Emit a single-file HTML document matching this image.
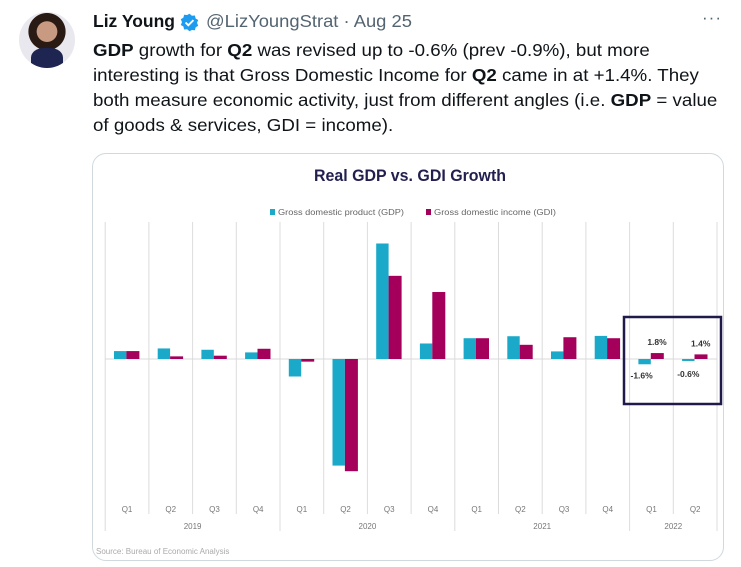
<!DOCTYPE html>
<html><head><meta charset="utf-8">
<style>
body{margin:0;width:741px;height:567px;background:#fff;font-family:"Liberation Sans",Arial,sans-serif;position:relative;overflow:hidden}
.abs{position:absolute}
.line{position:absolute;left:93px;font-size:17.5px;color:#0f1419;white-space:nowrap;transform:scaleX(1.07);transform-origin:0 0}
b{font-weight:700}
</style></head><body>
<div class="abs" style="left:19px;top:12px;width:56px;height:56px;border-radius:50%;background:radial-gradient(circle at 50% 35%,#c99a82 0 22%,#2a1a14 23% 40%,#e8e8ee 41%);overflow:hidden">
<div style="position:absolute;left:12px;top:36px;width:32px;height:24px;border-radius:40% 40% 0 0;background:#1d2550"></div></div>
<div class="abs" style="left:93px;top:11px;font-size:17.5px;font-weight:700;color:#0f1419">Liz Young</div>
<svg class="abs" style="left:180px;top:13px" width="19" height="19" viewBox="0 0 24 24"><path fill="#1d9bf0" d="M12 1l3 2.5 3.8-.3.9 3.7 3.3 2-1.5 3.6 1.5 3.6-3.3 2-.9 3.7-3.8-.3L12 23l-3-2.5-3.8.3-.9-3.7-3.3-2L2.5 11.5 1 7.9l3.3-2 .9-3.7 3.8.3z"/><path d="M7 12l3.5 3.5L17 9" stroke="#fff" stroke-width="2.4" fill="none"/></svg>
<div class="abs" style="left:206px;top:11px;font-size:17.5px;color:#536471;transform:scaleX(1.05);transform-origin:0 0;white-space:nowrap">@LizYoungStrat · Aug 25</div>
<div class="abs" style="left:702px;top:8px;font-size:17px;color:#536471;letter-spacing:1px">···</div>
<div class="line" style="top:40px"><b>GDP</b> growth for <b>Q2</b> was revised up to -0.6% (prev -0.9%), but more</div>
<div class="line" style="top:65px">interesting is that Gross Domestic Income for <b>Q2</b> came in at +1.4%. They</div>
<div class="line" style="top:90px">both measure economic activity, just from different angles (i.e. <b>GDP</b> = value</div>
<div class="line" style="top:115px">of goods &amp; services, GDI = income).</div>
<div class="abs" style="left:92px;top:153px;width:630px;height:406px;border:1px solid #cfd9de;border-radius:14px"></div>
<svg id="chart" class="abs" style="left:0;top:0" width="741" height="567"></svg>
<script>
const quarters=["Q1","Q2","Q3","Q4","Q1","Q2","Q3","Q4","Q1","Q2","Q3","Q4","Q1","Q2"];
const years=["2019","2020","2021","2022"];
const yearSpans=[4,4,4,2];
const gdp=[2.4,3.2,2.8,2.0,-5.3,-32.3,35.0,4.7,6.3,6.9,2.3,7.0,-1.6,-0.6];
const gdi=[2.4,0.8,1.0,3.1,-0.8,-34.0,25.2,20.3,6.3,4.3,6.6,6.3,1.8,1.4];
const labelIdx=[12,13];
const NS="http://www.w3.org/2000/svg",svg=document.getElementById('chart');
function mk(t,a,txt){const e=document.createElementNS(NS,t);for(const k in a)e.setAttribute(k,a[k]);if(txt!=null)e.textContent=txt;svg.appendChild(e);return e;}
const x0=105.2,cw=43.7,zeroY=359,ppu=3.3,bw=12.4;
const xs=i=>x0+i*cw, ys=v=>zeroY-v*ppu;
let t=mk('text',{x:410,y:181,'text-anchor':'middle','font-size':17,'font-weight':700,fill:'#221f4f',textLength:192,lengthAdjust:'spacingAndGlyphs'},'Real GDP vs. GDI Growth');

let r=mk('rect',{x:270,y:209,width:5,height:6,fill:'#1aa9c8'});
t=mk('text',{x:278,y:215,'font-size':8.5,fill:'#666',textLength:126,lengthAdjust:'spacingAndGlyphs'},'Gross domestic product (GDP)');
r=mk('rect',{x:426,y:209,width:5,height:6,fill:'#a4005b'});
t=mk('text',{x:434,y:215,'font-size':8.5,fill:'#666',textLength:122,lengthAdjust:'spacingAndGlyphs'},'Gross domestic income (GDI)');
let boundaries=[0];yearSpans.reduce((a,s)=>{boundaries.push(a+s);return a+s;},0);
for(let i=0;i<=quarters.length;i++){const isY=boundaries.includes(i);
 let l=mk('line',{x1:xs(i),x2:xs(i),y1:222,y2:isY?531:514,stroke:'#dcdcdc','stroke-width':1});
 }
let z=mk('line',{x1:xs(0),x2:xs(quarters.length),y1:zeroY,y2:zeroY,stroke:'#d9d9d9','stroke-width':1});

quarters.forEach((q,i)=>{
 const g=gdp[i],d=gdi[i],bx=xs(i)+8.8;
 let a=mk('rect',{x:bx,y:Math.min(ys(g),zeroY),width:bw,height:Math.abs(g)*ppu,fill:'#1aa9c8'});
 
 let b=mk('rect',{x:bx+bw,y:Math.min(ys(d),zeroY),width:bw+0.6,height:Math.abs(d)*ppu,fill:'#a4005b'});
 
 let ql=mk('text',{x:xs(i)+cw/2,y:512,'text-anchor':'middle','font-size':8,fill:'#777'},q);
 
 if(labelIdx.includes(i)){
  let p=mk('text',{x:bx+bw*1.5,y:ys(d)-8,'text-anchor':'middle','font-size':8.5,'font-weight':700,fill:'#333'},d.toFixed(1)+'%');
  
  let n=mk('text',{x:bx+bw/2-(i==12?3:0),y:ys(g)+(i==12?14:16),'text-anchor':'middle','font-size':8.5,'font-weight':700,fill:'#333'},g.toFixed(1)+'%');
  
 }
});
years.forEach((y,k)=>{const c=(boundaries[k]+boundaries[k+1])/2;
 let yl=mk('text',{x:xs(c),y:529,'text-anchor':'middle','font-size':8,fill:'#777'},y);
 });
let hb=mk('rect',{x:624,y:317,width:97,height:87,fill:'none',stroke:'#1f1a4a','stroke-width':2.5});

let s=mk('text',{x:96,y:554,'font-size':8,fill:'#aaa'},'Source: Bureau of Economic Analysis');

</script>
</body></html>
